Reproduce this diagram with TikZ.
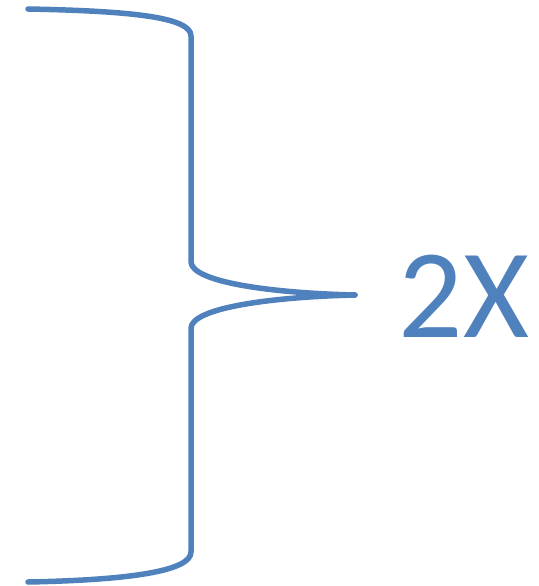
\documentclass[tikz,border=0pt]{standalone}
\usepackage{fontspec}
\setmainfont{Carlito}
\definecolor{braceblue}{HTML}{4F81BD}
\begin{document}
\begin{tikzpicture}[x=1pt,y=-1pt,line join=round,line cap=round]
\useasboundingbox (0,0) rectangle (538,586);
\tikzset{brace/.style={draw=braceblue,line width=5.5pt}}
\coordinate (tip) at (355,295);
% upper half of the brace
\draw[brace] (28,9) .. controls (130,11) and (191,17) .. (191,36)
  -- (191,262) .. controls (192,282) and (270,293) .. (tip);
% lower half of the brace
\draw[brace] (tip) .. controls (270,297) and (192,308) .. (191,328)
  -- (191,552) .. controls (191,571) and (130,580) .. (28,582);
\node[anchor=base,inner sep=0pt,text=braceblue,font=\fontsize{127}{127}\selectfont] (label) at (464,337) {2X};
\end{tikzpicture}
\end{document}
